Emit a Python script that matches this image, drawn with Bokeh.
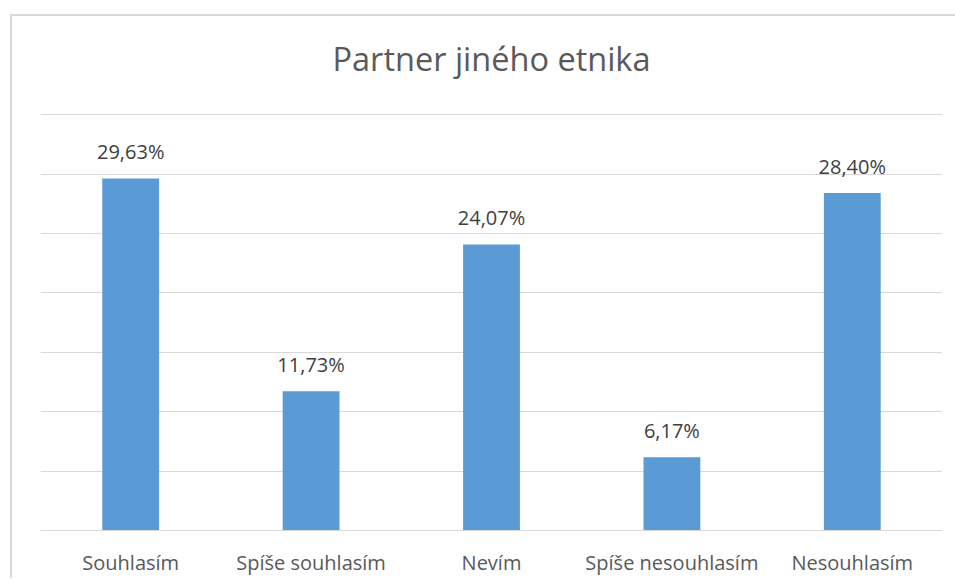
from bokeh.plotting import figure
from bokeh.models import ColumnDataSource, Range1d, SingleIntervalTicker, InlineStyleSheet
from bokeh.core.properties import value
from bokeh.embed import file_html
from bokeh.resources import INLINE

categories = ["Souhlasím", "Spíše souhlasím", "Nevím", "Spíše nesouhlasím", "Nesouhlasím"]
values = [29.63, 11.73, 24.07, 6.17, 28.40]
labels = [f"{v:.2f}".replace(".", ",") + "%" for v in values]

FONT = "Open Sans"

p = figure(
    x_range=categories,
    y_range=Range1d(0, 35.1),
    width=955,
    height=578,
    output_backend="svg",
    toolbar_location=None,
    min_border_left=40,
    min_border_right=13,
    min_border_top=113,
    min_border_bottom=45,
    title="Partner jiného etnika",
)
p.title.align = "center"
p.title.text_font = FONT
p.title.text_font_size = "32.5px"
p.title.text_font_style = "normal"
p.title.text_color = "#595959"
p.title.offset = 0
p.title.standoff = 66

src = ColumnDataSource(dict(cat=categories, val=values, lab=labels))
p.vbar(x="cat", top="val", width=0.315, source=src, fill_color="#5b9bd5", line_color=None)
p.text(x="cat", y="val", text="lab", source=src, text_align="center",
       text_baseline="alphabetic", y_offset=-27, text_font=value(FONT),
       text_font_size="20px", text_color="#404040")

p.outline_line_color = None
p.background_fill_color = "white"
p.border_fill_color = None
p.stylesheets = [InlineStyleSheet(css="""
:host { background-color: white; }
:host::before {
  content: '';
  position: absolute;
  left: 10px;
  top: 14px;
  width: calc(100% - 10px);
  height: calc(100% - 14px);
  border-left: 2px solid #d9d9d9;
  border-top: 2px solid #d9d9d9;
  box-sizing: border-box;
  pointer-events: none;
}
""")]
p.xgrid.grid_line_color = None
p.ygrid.grid_line_color = "#d9d9d9"
p.ygrid.grid_line_width = 1
p.yaxis.visible = False
p.yaxis.ticker = SingleIntervalTicker(interval=5)
p.ygrid.ticker = SingleIntervalTicker(interval=5)

p.xaxis.axis_line_color = "#d9d9d9"
p.xaxis.axis_line_width = 1
p.xaxis.major_tick_line_color = None
p.xaxis.minor_tick_line_color = None
p.xaxis.major_label_text_font = FONT
p.xaxis.major_label_text_font_size = "20px"
p.xaxis.major_label_text_color = "#595959"
p.xaxis.major_label_standoff = 12
p.x_range.range_padding = 0

open("out.html", "w").write(file_html(p, INLINE))
